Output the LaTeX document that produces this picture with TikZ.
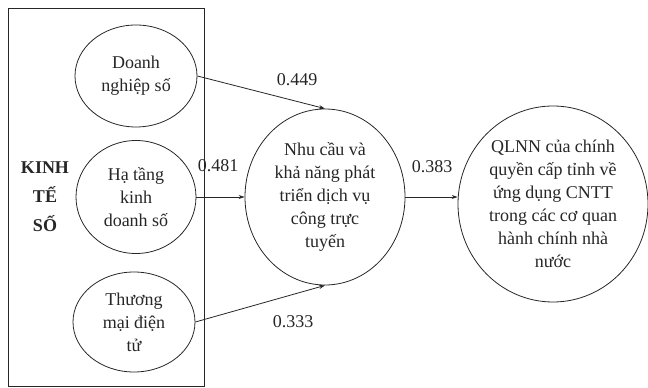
\documentclass[tikz,border=0pt]{standalone}
\usepackage{fontspec}
\setmainfont{Liberation Serif}
\usetikzlibrary{shapes.geometric,arrows.meta}

\begin{document}
\begin{tikzpicture}
  \tikzset{
    factor/.style={
      ellipse,
      draw=black!85,
      line width=0.8pt,
      inner sep=0pt,
      align=center,
      text=black!85,
      font=\fontsize{18}{23}\selectfont
    },
    path/.style={
      draw=black!85,
      line width=0.8pt,
      -{Stealth[length=6pt,width=4pt]}
    },
    coef/.style={
      text=black!85,
      font=\fontsize{18}{23}\selectfont
    }
  }

  \useasboundingbox (0pt, 0pt) rectangle (648pt, 388pt);

  \node[draw=black!85, line width=0.8pt, minimum width=196pt, minimum height=378pt] (frame) at (106pt, 191pt) {};
  \node[coef, font=\bfseries\fontsize{18}{29}\selectfont, align=center] (kts) at (45pt, 191pt) {KINH\\TẾ\\SỐ};

  \node[factor, minimum width=122pt, minimum height=102pt] (dn) at (136pt, 312pt) {Doanh\\nghiệp số};
  \node[factor, minimum width=120pt, minimum height=113pt] (ht) at (136pt, 191pt) {Hạ tầng\\kinh\\doanh số};
  \node[factor, minimum width=122pt, minimum height=100pt] (tm) at (134pt, 66pt) {Thương\\mại điện\\tử};
  \node[factor, minimum width=160pt, minimum height=176pt] (nc) at (325pt, 191pt) {Nhu cầu và\\khả năng phát\\triển dịch vụ\\công trực\\tuyến};
  \node[factor, minimum width=190pt, minimum height=196pt] (ql) at (553pt, 184pt) {QLNN của chính\\quyền cấp tỉnh về\\ứng dụng CNTT\\trong các cơ quan\\hành chính nhà\\nước};

  \draw[path] (dn.east) -- (nc.north);
  \draw[path] (ht.east) -- (nc.west);
  \draw[path] (tm.east) -- (nc.south);
  \draw[path] (nc.east) -- (nc.east -| ql.west);

  \node[coef] (c1) at (297pt, 308pt) {0.449};
  \node[coef] (c2) at (218pt, 222pt) {0.481};
  \node[coef] (c3) at (293pt, 66pt) {0.333};
  \node[coef] (c4) at (432pt, 221pt) {0.383};
\end{tikzpicture}
\end{document}
